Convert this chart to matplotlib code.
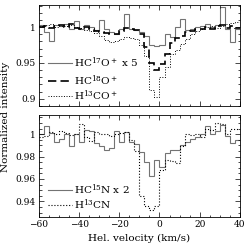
import matplotlib
matplotlib.use("Agg")
import matplotlib.pyplot as plt
import numpy as np
from matplotlib.ticker import MultipleLocator

plt.rcParams['font.family'] = ['DejaVu Serif']
plt.rcParams['mathtext.fontset'] = 'dejavuserif'

# channel edges (km/s)
edges = np.arange(-60, 40.1, 2.5)

# top panel
hc17op = [1.003, 0.993, 0.981, 1.003, 1.001, 1.004, 0.998, 1.009, 0.998, 1.003,
          1.0, 0.996, 1.010, 0.998, 0.993, 0.991, 0.998, 1.019, 0.998, 0.996,
          0.993, 0.987, 0.975, 0.973, 0.975, 0.991, 0.986, 1.0, 1.012, 0.996,
          0.998, 1.0, 1.001, 1.004, 1.0, 1.003, 1.028, 0.998, 0.979, 0.998]
hc18op = [1.0, 1.002, 0.999, 1.001, 1.003, 1.0, 1.005, 0.999, 0.998, 1.0,
          0.997, 0.995, 0.993, 0.992, 0.990, 0.991, 0.995, 0.999, 0.997, 0.996,
          0.990, 0.972, 0.950, 0.940, 0.948, 0.962, 0.978, 0.985, 0.988, 0.993,
          0.995, 0.997, 0.998, 1.0, 0.998, 1.001, 1.003, 0.999, 1.002, 0.999]
h13cop = [1.002, 1.003, 1.004, 1.0, 1.002, 1.001, 1.003, 1.0, 0.999, 0.996,
          0.995, 0.992, 0.988, 0.982, 0.979, 0.981, 0.984, 0.986, 0.985, 0.983,
          0.975, 0.960, 0.912, 0.903, 0.930, 0.945, 0.962, 0.968, 0.977, 0.984,
          0.990, 0.995, 0.998, 1.0, 1.002, 0.999, 1.001, 1.004, 1.006, 1.007]

# bottom panel
hc15n = [1.0, 1.007, 1.001, 0.993, 0.996, 1.0, 0.989, 1.0, 0.993, 1.004,
         1.003, 0.992, 0.989, 0.986, 0.988, 1.003, 0.993, 1.002, 0.993, 0.991,
         0.984, 0.975, 0.963, 0.977, 0.971, 0.983, 0.986, 0.986, 0.990, 0.993,
         0.996, 0.997, 1.0, 1.007, 1.0, 1.003, 1.008, 0.998, 0.992, 0.995]
h13cn = [0.997, 0.998, 1.002, 1.0, 1.003, 1.001, 0.999, 1.0, 1.009, 0.997,
         0.994, 1.002, 1.0, 1.0, 0.998, 1.0, 1.001, 1.002, 0.995, 0.985,
         0.945, 0.936, 0.932, 0.936, 0.968, 0.977, 0.976, 0.974, 0.989, 1.0,
         0.999, 1.0, 0.997, 1.005, 1.004, 1.010, 1.009, 1.0, 1.005, 1.005]

fig = plt.figure(figsize=(2.45, 2.48), dpi=100)
ax1 = fig.add_axes([0.159, 0.573, 0.82, 0.407])
ax2 = fig.add_axes([0.159, 0.125, 0.82, 0.411])

dash = (0, (5, 2.5))
ax1.stairs(hc17op, edges, color='0.45', lw=0.8, baseline=None)
ax1.stairs(hc18op, edges, color='k', lw=1.2, ls=dash, baseline=None)
ax1.stairs(h13cop, edges, color='k', lw=0.7, ls=':', baseline=None)

ax2.stairs(hc15n, edges, color='0.45', lw=0.8, baseline=None)
ax2.stairs(h13cn, edges, color='k', lw=0.8, ls=':', baseline=None)

ax1.set_ylim(0.89, 1.031)
ax2.set_ylim(0.926, 1.017)
for ax in (ax1, ax2):
    ax.set_xlim(-60, 40)
    ax.xaxis.set_major_locator(MultipleLocator(20))
    ax.xaxis.set_minor_locator(MultipleLocator(5))
    ax.tick_params(which='both', direction='in', top=True, right=True,
                   labelsize=6.5, width=0.5, pad=2.5)
    ax.tick_params(which='major', length=3.5)
    ax.tick_params(which='minor', length=1.8)
    for s in ax.spines.values():
        s.set_linewidth(0.6)

ax1.yaxis.set_minor_locator(MultipleLocator(0.01))
ax1.set_yticks([0.9, 0.95, 1.0])
ax1.set_yticklabels(['0.9', '0.95', '1'])
ax1.tick_params(labelbottom=False)

ax2.yaxis.set_minor_locator(MultipleLocator(0.005))
ax2.set_yticks([0.94, 0.96, 0.98, 1.0])
ax2.set_yticklabels(['0.94', '0.96', '0.98', '1'])

ax2.set_xlabel('Hel. velocity (km/s)', fontsize=7.5, labelpad=3)
fig.text(0.022, 0.53, 'Normalized intensity', rotation=90, fontsize=7.5,
         va='center', ha='center')

# legend keys
def key(ax, y, label, **kw):
    ax.plot([0.045, 0.165], [y, y], transform=ax.transAxes, **kw)
    ax.text(0.175, y, label, transform=ax.transAxes, fontsize=7.5, va='center')

key(ax1, 0.425, r'HC$^{17}$O$^+$ x 5', color='0.45', lw=0.8)
key(ax1, 0.25, r'HC$^{18}$O$^+$', color='k', lw=1.2, ls=dash)
key(ax1, 0.1, r'H$^{13}$CO$^+$', color='k', lw=0.7, ls=':')
key(ax2, 0.265, r'HC$^{15}$N x 2', color='0.45', lw=0.8)
key(ax2, 0.12, r'H$^{13}$CN', color='k', lw=0.8, ls=':')

fig.savefig('out.png', dpi=100)
